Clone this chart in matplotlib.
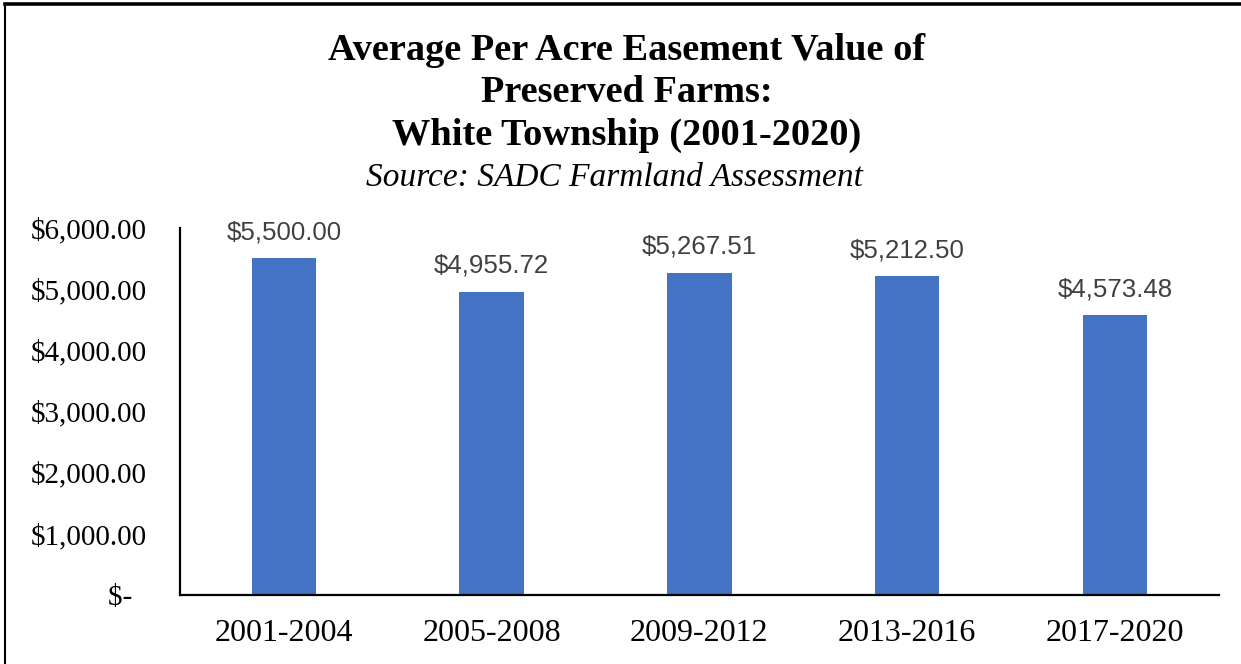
import matplotlib.pyplot as plt
from matplotlib.lines import Line2D

periods = ["2001-2004", "2005-2008", "2009-2012", "2013-2016", "2017-2020"]
values = [5500.00, 4955.72, 5267.51, 5212.50, 4573.48]
y_ticks = [0, 1000, 2000, 3000, 4000, 5000, 6000]
y_labels = ["$-  ", "$1,000.00", "$2,000.00", "$3,000.00", "$4,000.00", "$5,000.00", "$6,000.00"]

fig = plt.figure(figsize=(12.41, 6.64), dpi=100)
ax = fig.add_axes([0.145, 0.104, 0.837, 0.553])

x = range(len(periods))
ax.bar(x, values, width=0.31, color="#4472C4")
for i, v in zip(x, values):
    ax.annotate(f"${v:,.2f}", (i, v), xytext=(0, 10), textcoords="offset points",
                ha="center", va="bottom", fontsize=18.6, color="#404040",
                family="Liberation Sans")

ax.set_xlim(-0.5, len(periods) - 0.5)
ax.set_ylim(0, 6000)
ax.set_xticks(list(x))
ax.set_xticklabels(periods, family="Liberation Serif", fontsize=23)
ax.set_yticks(y_ticks)
ax.set_yticklabels(y_labels, family="Liberation Serif", fontsize=21)
ax.tick_params(axis="y", length=0, pad=24)
ax.tick_params(axis="x", length=0, pad=17)
for side in ("top", "right"):
    ax.spines[side].set_visible(False)
for side in ("left", "bottom"):
    ax.spines[side].set_linewidth(1.6)

# heading block
fig.text(0.505, 0.860, "Average Per Acre Easement Value of\nPreserved Farms:\nWhite Township (2001-2020)",
         ha="center", va="center", family="Liberation Serif", fontweight="bold",
         fontsize=27.6, linespacing=1.27)
fig.text(0.495, 0.732, "Source: SADC Farmland Assessment", ha="center", va="center",
         family="Liberation Serif", style="italic", fontsize=24)

# frame along top and left edge
fig.add_artist(Line2D([0.004, 1.0], [0.994, 0.994], color="black", lw=2.6,
                      transform=fig.transFigure))
fig.add_artist(Line2D([0.004, 0.004], [0.0, 0.994], color="black", lw=1.5,
                      transform=fig.transFigure))

fig.savefig("out.png", dpi=100)
